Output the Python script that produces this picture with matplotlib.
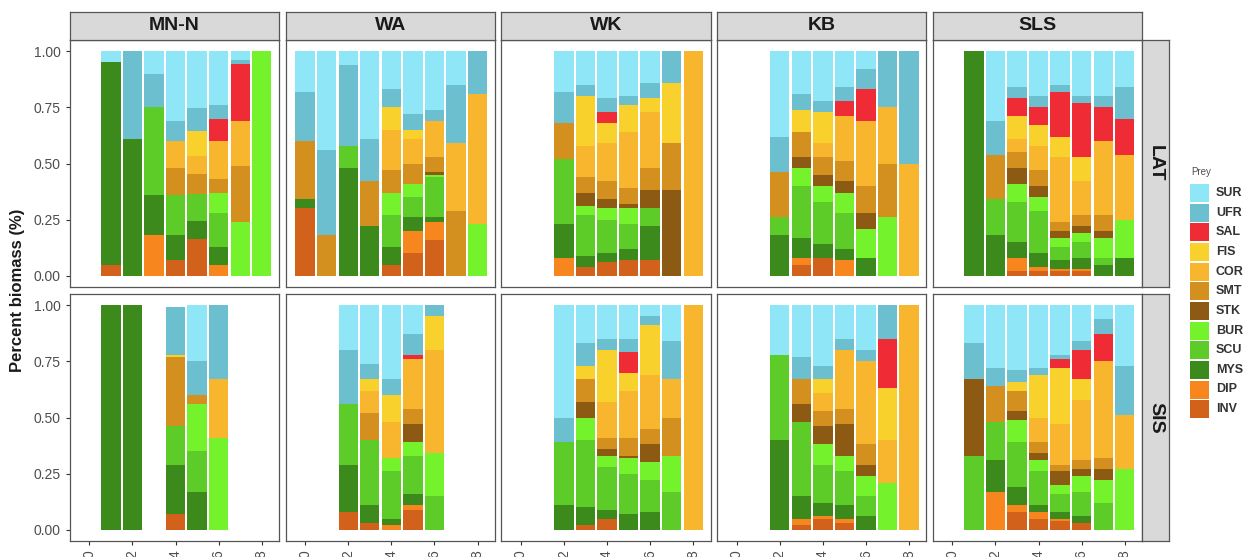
import matplotlib.pyplot as plt
from matplotlib.patches import Rectangle

plt.rcParams['font.family'] = ['Liberation Sans', 'DejaVu Sans']

# prey groups, legend order (top of stack first)
prey = ["SUR", "UFR", "SAL", "FIS", "COR", "SMT", "STK", "BUR", "SCU", "MYS", "DIP", "INV"]
prey_colors = ["#8EE6F6", "#6CBFCE", "#EF2B35", "#F8D12C", "#F8B62E", "#D3901F",
               "#8C5A13", "#74F22C", "#5DCB28", "#3C8A1B", "#F7861F", "#D2621B"]

sites = ["MN-N", "WA", "WK", "KB", "SLS"]
seasons = ["LAT", "SIS"]
x_ticks = [0, 2, 4, 6, 8]
y_ticks = [0, 0.25, 0.5, 0.75, 1.0]
y_tick_labels = ["0.00", "0.25", "0.50", "0.75", "1.00"]

# proportion of biomass per prey, keyed by sample number
mnn_lat = {
    1: {"INV": .05, "MYS": .90, "SUR": .05},
    2: {"MYS": .61, "UFR": .39},
    3: {"DIP": .18, "MYS": .18, "SCU": .39, "UFR": .15, "SUR": .10},
    4: {"INV": .07, "MYS": .11, "SCU": .18, "SMT": .12, "COR": .12, "UFR": .09, "SUR": .31},
    5: {"INV": .165, "MYS": .08, "SCU": .12, "SMT": .09, "COR": .08, "FIS": .11, "UFR": .10, "SUR": .255},
    6: {"DIP": .05, "MYS": .08, "SCU": .15, "BUR": .09, "SMT": .06, "COR": .17, "SAL": .10, "UFR": .06, "SUR": .24},
    7: {"BUR": .24, "SMT": .25, "COR": .20, "SAL": .255, "UFR": .015, "SUR": .04},
    8: {"BUR": 1.0},
}
wa_lat = {
    0: {"INV": .30, "MYS": .04, "SMT": .26, "UFR": .22, "SUR": .18},
    1: {"SMT": .18, "UFR": .38, "SUR": .44},
    2: {"MYS": .48, "SCU": .10, "UFR": .36, "SUR": .06},
    3: {"MYS": .22, "SMT": .20, "UFR": .19, "SUR": .39},
    4: {"INV": .05, "MYS": .08, "SCU": .14, "BUR": .10, "SMT": .10, "COR": .18, "FIS": .10, "UFR": .08, "SUR": .17},
    5: {"INV": .10, "DIP": .10, "MYS": .06, "SCU": .09, "BUR": .06, "SMT": .09, "COR": .11, "FIS": .04, "UFR": .07, "SUR": .28},
    6: {"INV": .16, "DIP": .08, "MYS": .02, "SCU": .18, "BUR": .01, "STK": .01, "SMT": .07, "COR": .16, "UFR": .05, "SUR": .26},
    7: {"SMT": .29, "COR": .30, "UFR": .26, "SUR": .15},
    8: {"BUR": .23, "COR": .58, "UFR": .19},
}
wk_lat = {
    2: {"DIP": .08, "MYS": .15, "SCU": .29, "SMT": .16, "UFR": .14, "SUR": .18},
    3: {"INV": .04, "MYS": .05, "SCU": .18, "BUR": .04, "STK": .06, "SMT": .07, "COR": .14, "FIS": .22, "UFR": .05, "SUR": .15},
    4: {"INV": .06, "MYS": .04, "SCU": .15, "BUR": .05, "STK": .04, "SMT": .08, "COR": .17, "FIS": .09, "SAL": .05, "UFR": .06, "SUR": .21},
    5: {"INV": .07, "MYS": .05, "SCU": .11, "BUR": .07, "STK": .02, "SMT": .07, "COR": .25, "FIS": .12, "UFR": .04, "SUR": .20},
    6: {"INV": .07, "MYS": .15, "SCU": .08, "STK": .08, "SMT": .10, "COR": .25, "FIS": .06, "UFR": .07, "SUR": .14},
    7: {"STK": .38, "SMT": .21, "FIS": .27, "UFR": .14},
    8: {"COR": 1.0},
}
kb_lat = {
    2: {"MYS": .18, "SCU": .08, "SMT": .20, "UFR": .16, "SUR": .38},
    3: {"INV": .05, "DIP": .03, "MYS": .09, "SCU": .23, "BUR": .08, "STK": .05, "SMT": .11, "FIS": .10, "UFR": .07, "SUR": .19},
    4: {"INV": .08, "MYS": .06, "SCU": .19, "BUR": .07, "STK": .05, "SMT": .08, "COR": .06, "FIS": .14, "UFR": .05, "SUR": .22},
    5: {"DIP": .07, "MYS": .05, "SCU": .16, "BUR": .09, "STK": .05, "SMT": .09, "COR": .20, "SAL": .07, "UFR": .06, "SUR": .16},
    6: {"MYS": .08, "BUR": .13, "STK": .07, "SMT": .12, "COR": .29, "SAL": .14, "UFR": .09, "SUR": .08},
    7: {"BUR": .26, "SMT": .24, "COR": .25, "UFR": .25},
    8: {"COR": .50, "UFR": .50},
}
sls_lat = {
    1: {"MYS": 1.0},
    2: {"MYS": .18, "SCU": .16, "SMT": .20, "UFR": .15, "SUR": .31},
    3: {"INV": .02, "DIP": .06, "MYS": .07, "SCU": .18, "BUR": .08, "STK": .07, "SMT": .07, "COR": .06, "FIS": .10, "SAL": .08, "UFR": .05, "SUR": .16},
    4: {"INV": .02, "DIP": .02, "MYS": .06, "SCU": .19, "BUR": .06, "STK": .05, "SMT": .07, "COR": .11, "FIS": .09, "SAL": .08, "UFR": .05, "SUR": .20},
    5: {"INV": .02, "DIP": .01, "MYS": .04, "SCU": .06, "BUR": .04, "STK": .03, "SMT": .04, "COR": .29, "FIS": .09, "SAL": .20, "UFR": .03, "SUR": .15},
    6: {"INV": .02, "DIP": .01, "MYS": .05, "SCU": .07, "BUR": .04, "STK": .03, "SMT": .05, "COR": .15, "FIS": .11, "SAL": .24, "UFR": .03, "SUR": .20},
    7: {"MYS": .05, "SCU": .03, "BUR": .09, "STK": .03, "SMT": .07, "COR": .33, "SAL": .15, "UFR": .05, "SUR": .20},
    8: {"MYS": .08, "BUR": .17, "COR": .29, "SAL": .16, "UFR": .14, "SUR": .16},
}

mnn_sis = {
    1: {"MYS": 1.0},
    2: {"MYS": 1.0},
    4: {"INV": .07, "MYS": .22, "SCU": .17, "SMT": .31, "FIS": .01, "UFR": .21},
    5: {"MYS": .17, "SCU": .18, "BUR": .21, "SMT": .04, "UFR": .15, "SUR": .25},
    6: {"BUR": .41, "COR": .26, "UFR": .33},
}
wa_sis = {
    2: {"INV": .08, "MYS": .21, "SCU": .27, "UFR": .24, "SUR": .20},
    3: {"INV": .03, "MYS": .08, "SCU": .29, "SMT": .12, "COR": .10, "FIS": .05, "UFR": .07, "SUR": .26},
    4: {"DIP": .02, "MYS": .03, "SCU": .21, "BUR": .06, "COR": .16, "FIS": .12, "UFR": .07, "SUR": .33},
    5: {"INV": .09, "DIP": .02, "MYS": .05, "SCU": .17, "BUR": .06, "STK": .08, "SMT": .07, "COR": .22, "SAL": .02, "UFR": .09, "SUR": .13},
    6: {"SCU": .15, "BUR": .19, "COR": .46, "FIS": .15, "UFR": .05},
}
wk_sis = {
    2: {"MYS": .11, "SCU": .28, "UFR": .11, "SUR": .50},
    3: {"INV": .02, "MYS": .08, "SCU": .30, "BUR": .10, "STK": .07, "SMT": .10, "FIS": .06, "UFR": .10, "SUR": .17},
    4: {"INV": .05, "MYS": .04, "SCU": .19, "BUR": .05, "STK": .03, "SMT": .05, "COR": .16, "FIS": .23, "UFR": .05, "SUR": .15},
    5: {"MYS": .07, "SCU": .18, "BUR": .07, "STK": .01, "SMT": .08, "COR": .21, "FIS": .08, "SAL": .09, "UFR": .06, "SUR": .15},
    6: {"MYS": .08, "SCU": .14, "BUR": .08, "STK": .08, "SMT": .07, "COR": .24, "FIS": .22, "UFR": .04, "SUR": .05},
    7: {"SCU": .17, "BUR": .16, "SMT": .17, "COR": .17, "UFR": .17, "SUR": .16},
    8: {"COR": 1.0},
}
kb_sis = {
    2: {"MYS": .40, "SCU": .38, "SUR": .22},
    3: {"INV": .02, "DIP": .03, "MYS": .10, "SCU": .33, "STK": .08, "SMT": .11, "UFR": .10, "SUR": .23},
    4: {"INV": .05, "DIP": .01, "MYS": .06, "SCU": .17, "BUR": .09, "STK": .08, "SMT": .07, "COR": .08, "FIS": .06, "UFR": .06, "SUR": .27},
    5: {"INV": .03, "DIP": .02, "MYS": .06, "SCU": .15, "BUR": .07, "STK": .14, "SMT": .07, "COR": .26, "UFR": .05, "SUR": .15},
    6: {"MYS": .06, "SCU": .09, "BUR": .09, "STK": .05, "SMT": .09, "COR": .37, "UFR": .05, "SUR": .20},
    7: {"BUR": .21, "COR": .19, "FIS": .23, "SAL": .22, "UFR": .15},
    8: {"COR": 1.0},
}
sls_sis = {
    1: {"SCU": .33, "STK": .34, "UFR": .16, "SUR": .17},
    2: {"DIP": .17, "MYS": .14, "SCU": .17, "SMT": .16, "UFR": .08, "SUR": .28},
    3: {"INV": .08, "DIP": .03, "MYS": .08, "SCU": .20, "BUR": .10, "STK": .04, "SMT": .09, "FIS": .04, "UFR": .05, "SUR": .29},
    4: {"INV": .05, "DIP": .03, "MYS": .03, "SCU": .15, "BUR": .05, "STK": .03, "SMT": .05, "COR": .11, "FIS": .19, "UFR": .03, "SUR": .28},
    5: {"INV": .04, "DIP": .01, "MYS": .03, "SCU": .08, "BUR": .04, "STK": .06, "SMT": .03, "COR": .18, "FIS": .25, "SAL": .04, "UFR": .02, "SUR": .22},
    6: {"INV": .03, "MYS": .03, "SCU": .11, "BUR": .07, "STK": .03, "SMT": .04, "COR": .27, "FIS": .09, "SAL": .13, "UFR": .04, "SUR": .16},
    7: {"SCU": .12, "BUR": .10, "STK": .05, "SMT": .05, "COR": .43, "SAL": .12, "UFR": .07, "SUR": .06},
    8: {"BUR": .27, "COR": .24, "UFR": .22, "SUR": .27},
}

panels = {
    "LAT": [mnn_lat, wa_lat, wk_lat, kb_lat, sls_lat],
    "SIS": [mnn_sis, wa_sis, wk_sis, kb_sis, sls_sis],
}

W, H = 1246, 557
fig = plt.figure(figsize=(W / 100, H / 100), dpi=100)


def px_axes(left, top, width, height):
    return fig.add_axes([left / W, 1 - (top + height) / H, width / W, height / H])


border = "#555555"
strip_fill = "#D9D9D9"
col_left = [70, 285.75, 501.5, 717.25, 933]
panel_w = 209
row_top = [40, 294]
panel_h = 247

for r, season in enumerate(seasons):
    for c, site in enumerate(sites):
        ax = px_axes(col_left[c], row_top[r], panel_w, panel_h)
        bars = panels[season][c]
        xs = sorted(bars)
        bottom = [0.0] * len(xs)
        # stack from the bottom of the legend upward
        for p, col in zip(prey[::-1], prey_colors[::-1]):
            h = [bars[x].get(p, 0) for x in xs]
            ax.bar(xs, h, bottom=bottom, width=0.9, color=col, linewidth=0)
            bottom = [b + v for b, v in zip(bottom, h)]
        ax.set_xlim(-0.9, 8.8)
        ax.set_ylim(-0.05, 1.05)
        for s in ax.spines.values():
            s.set_color(border)
            s.set_linewidth(0.9)
        ax.set_xticks(x_ticks)
        ax.set_yticks(y_ticks)
        ax.tick_params(length=3, color="#333333", labelcolor="#4D4D4D", labelsize=10)
        if r == 1:
            ax.set_xticklabels([str(t) for t in x_ticks], rotation=90)
        else:
            ax.tick_params(axis="x", length=0, labelbottom=False)
        if c == 0:
            ax.set_yticklabels(y_tick_labels)
        else:
            ax.tick_params(axis="y", length=0, labelleft=False)

        if r == 0:
            st = px_axes(col_left[c], 12, panel_w, 28)
            st.set_facecolor(strip_fill)
            st.set_xticks([])
            st.set_yticks([])
            for s in st.spines.values():
                s.set_color(border)
                s.set_linewidth(0.9)
            st.text(0.5, 0.5, site, ha="center", va="center", fontsize=14,
                    fontweight="bold", color="#1A1A1A", transform=st.transAxes)

    rs = px_axes(1142, row_top[r], 27, panel_h)
    rs.set_facecolor(strip_fill)
    rs.set_xticks([])
    rs.set_yticks([])
    for s in rs.spines.values():
        s.set_color(border)
        s.set_linewidth(0.9)
    rs.text(0.5, 0.5, season, ha="center", va="center", rotation=-90, fontsize=14,
            fontweight="bold", color="#1A1A1A", transform=rs.transAxes)

fig.text(18 / W, 1 - 290 / H, "Percent biomass (%)", rotation=90, ha="center",
         va="center", fontsize=12, fontweight="bold", color="#1A1A1A")

# legend drawn in pixel space
leg = fig.add_axes([0, 0, 1, 1])
leg.set_xlim(0, W)
leg.set_ylim(H, 0)
leg.axis("off")
leg.text(1191, 172, "Prey", fontsize=7, color="#4D4D4D", va="center", ha="left")
for i, (p, col) in enumerate(zip(prey, prey_colors)):
    yc = 193 + i * 19.65
    leg.add_patch(Rectangle((1190, yc - 9), 19, 18, facecolor=col, edgecolor="none"))
    leg.text(1216, yc, p, fontsize=9, fontweight="bold", color="#333333",
             va="center", ha="left")

fig.savefig("out.png", dpi=100)
